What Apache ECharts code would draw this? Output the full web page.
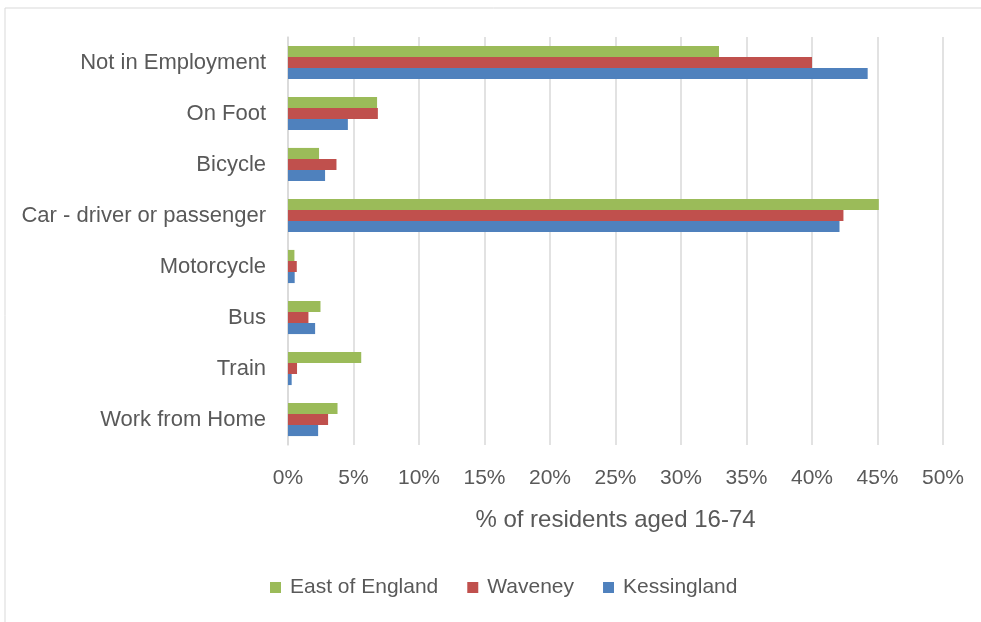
<!DOCTYPE html>
<html>
<head>
<meta charset="utf-8">
<script src="https://cdn.jsdelivr.net/npm/echarts@6/dist/echarts.min.js"></script>
<style>
  html, body { margin: 0; padding: 0; background: #fff; }
  #chart { width: 981px; height: 622px; }
</style>
</head>
<body>
<div id="chart"></div>
<script>
// Travel to work categories, listed bottom to top as ECharts draws a y category axis
const categories = ['Work from Home', 'Train', 'Bus', 'Motorcycle', 'Car - driver or passenger', 'Bicycle', 'On Foot', 'Not in Employment'];

// % of residents aged 16-74, same order as categories
const kessingland = [2.3, 0.28, 2.07, 0.51, 42.1, 2.83, 4.57, 44.25];
const waveney = [3.06, 0.69, 1.56, 0.67, 42.4, 3.7, 6.86, 40.0];
const eastOfEngland = [3.78, 5.59, 2.48, 0.49, 45.1, 2.37, 6.8, 32.9];

const axisTicks = [0, 5, 10, 15, 20, 25, 30, 35, 40, 45, 50];

const textColor = '#595959';
const font = 'Liberation Sans';

const chart = echarts.init(document.getElementById('chart'), null, { renderer: 'canvas' });

chart.setOption({
  animation: false,
  backgroundColor: '#fff',
  graphic: [{
    type: 'rect',
    shape: { x: 5, y: 8, width: 1000, height: 700 },
    style: { fill: 'none', stroke: '#D9D9D9', lineWidth: 1 },
    silent: true, z: -10
  }],
  grid: { left: 288, right: 38, top: 37, bottom: 177, containLabel: false },
  legend: {
    data: ['East of England', 'Waveney', 'Kessingland'],
    top: 572,
    left: 265,
    itemWidth: 11,
    itemHeight: 11,
    itemGap: 29,
    icon: 'rect',
    textStyle: { color: textColor, fontSize: 21, fontFamily: font, padding: [0, 0, 0, 4] }
  },
  xAxis: {
    type: 'value',
    min: axisTicks[0],
    max: axisTicks[axisTicks.length - 1],
    interval: 5,
    name: '% of residents aged 16-74',
    nameLocation: 'middle',
    nameGap: 63,
    nameTextStyle: { color: textColor, fontSize: 24, fontFamily: font },
    axisLine: { show: false },
    axisTick: { show: false },
    axisLabel: { color: textColor, fontSize: 21, fontFamily: font, margin: 23, formatter: v => v + '%' },
    splitLine: { show: true, lineStyle: { color: '#D9D9D9', width: 1.5 } }
  },
  yAxis: {
    type: 'category',
    data: categories,
    axisLine: { show: true, lineStyle: { color: '#D9D9D9', width: 1.5 } },
    axisTick: { show: false },
    axisLabel: { color: textColor, fontSize: 22, fontFamily: font, margin: 22 }
  },
  series: [
    { name: 'East of England', type: 'bar', data: eastOfEngland, itemStyle: { color: '#9BBB59' }, barGap: '0%', barCategoryGap: '35%' },
    { name: 'Waveney', type: 'bar', data: waveney, itemStyle: { color: '#C0504D' } },
    { name: 'Kessingland', type: 'bar', data: kessingland, itemStyle: { color: '#4F81BD' } }
  ]
});
</script>
</body>
</html>
